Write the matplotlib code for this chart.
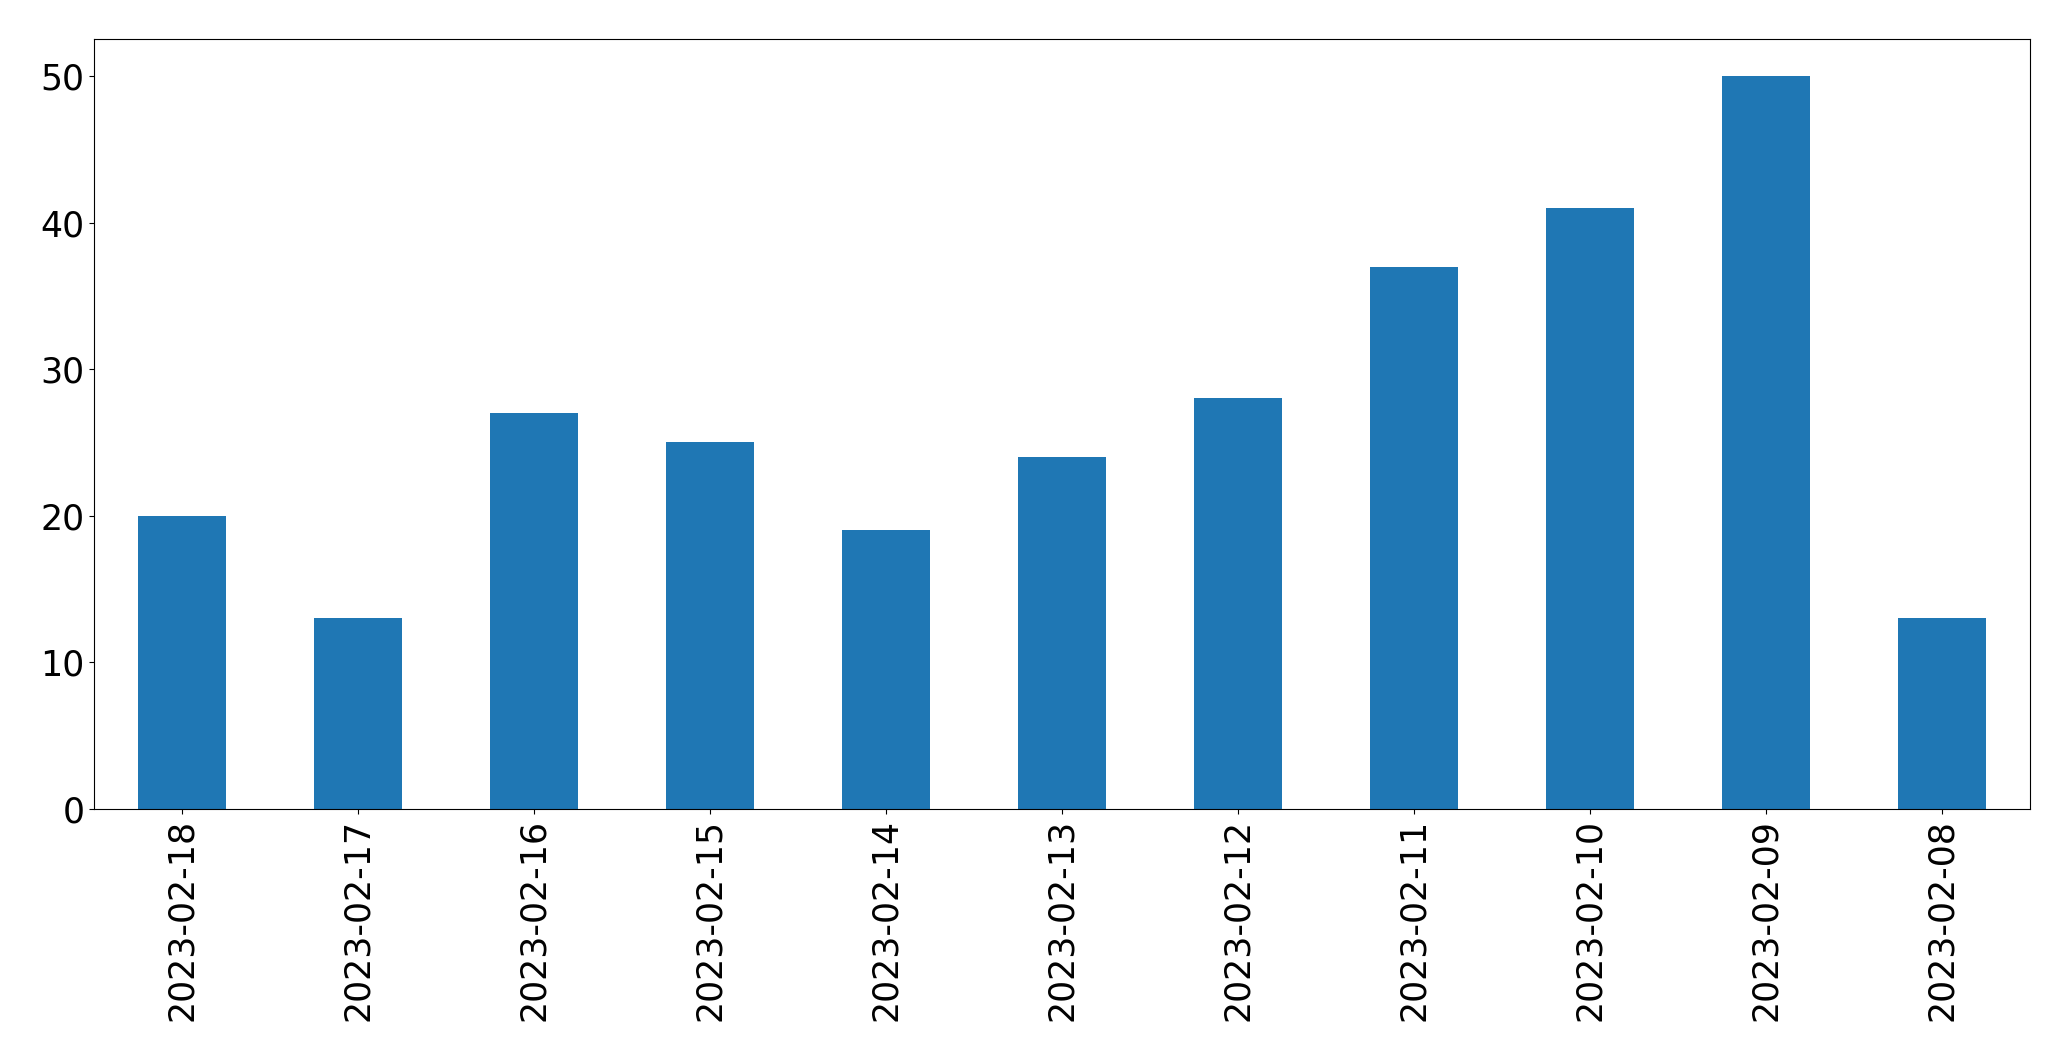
import pandas as pd
import matplotlib
matplotlib.use("Agg")
import matplotlib.pyplot as plt

dates = ["2023-02-18", "2023-02-17", "2023-02-16", "2023-02-15", "2023-02-14", "2023-02-13",
         "2023-02-12", "2023-02-11", "2023-02-10", "2023-02-09", "2023-02-08"]
counts = [20, 13, 27, 25, 19, 24, 28, 37, 41, 50, 13]

s = pd.Series(counts, index=dates)

fig, ax = plt.subplots(figsize=(20.71, 10.61), dpi=100)
s.plot(kind="bar", ax=ax, color="#1f77b4", fontsize=25)
fig.subplots_adjust(left=0.0456, right=0.980, top=0.963, bottom=0.2375)
fig.savefig("out.png", dpi=100)
